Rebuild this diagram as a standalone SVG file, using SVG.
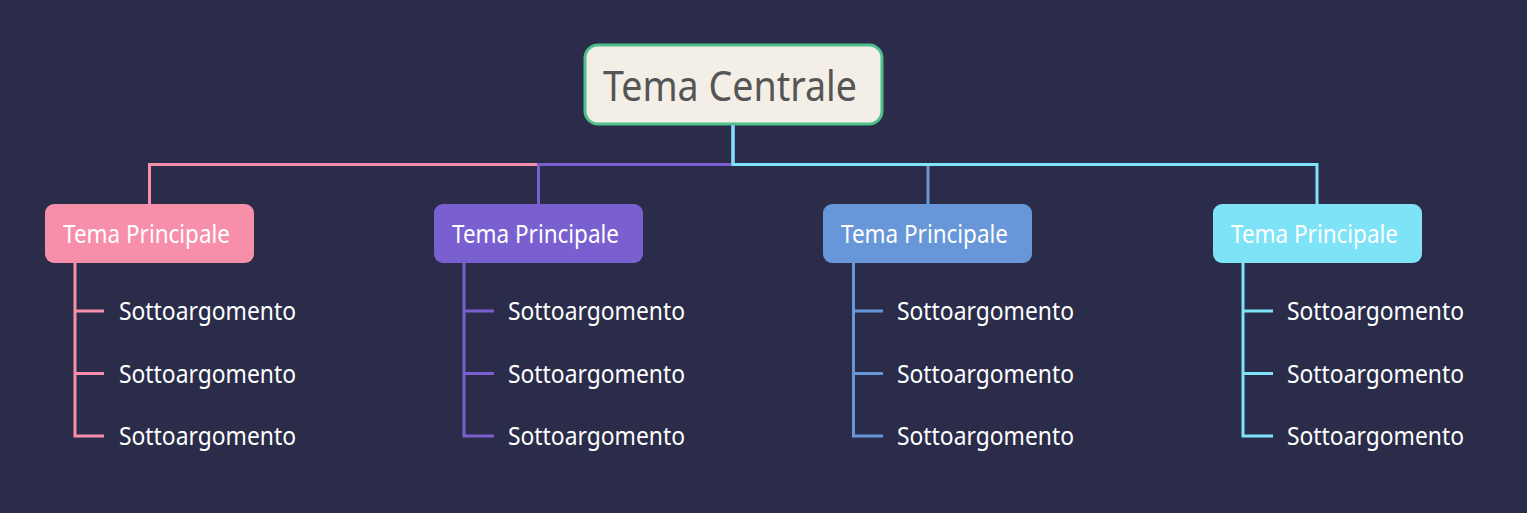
<svg xmlns="http://www.w3.org/2000/svg" width="1527" height="513" viewBox="0 0 1527 513">
<style>
.bg{fill:#2a2c4a}
.c{fill:none;stroke-width:3;stroke-linecap:butt;stroke-linejoin:miter}
.main{font-family:"Segoe UI","Noto Sans","Open Sans",sans-serif;font-size:25px;fill:#ffffff}
.sub{font-family:"Segoe UI","Noto Sans","Open Sans",sans-serif;font-size:24.5px;fill:#ffffff}
.root{font-family:"Segoe UI","Noto Sans","Open Sans",sans-serif;font-size:41px;fill:#555555}
</style>
<rect class="bg" x="0" y="0" width="1527" height="513"/>
<g id="connectors">
<path class="c" stroke="#f78fab" d="M733,125 V164.5 H149.5 V204"/>
<path class="c" stroke="#7a5fd1" d="M733,125 V164.5 H538.5 V204"/>
<path class="c" stroke="#6797d8" d="M733,125 V164.5 H928 V204"/>
<path class="c" stroke="#7ee3f7" d="M733,125 V164.5 H1317 V204"/>
<path class="c" stroke="#f78fab" d="M75,263 V436 H104 M75,311 H104 M75,373.5 H104"/>
<path class="c" stroke="#7a5fd1" d="M464,263 V436 H494 M464,311 H494 M464,373.5 H494"/>
<path class="c" stroke="#6797d8" d="M853.5,263 V436 H883 M853.5,311 H883 M853.5,373.5 H883"/>
<path class="c" stroke="#7ee3f7" d="M1243,263 V436 H1273 M1243,311 H1273 M1243,373.5 H1273"/>
</g>
<g id="root">
<rect x="585" y="45" width="297" height="79" rx="13" fill="#f3efe6" stroke="#4fbf8c" stroke-width="3"/>
<text class="root" x="603" y="100.5" textLength="254" lengthAdjust="spacingAndGlyphs">Tema Centrale</text>
</g>
<g id="main1">
<rect x="45" y="204" width="209" height="59" rx="9" fill="#f78fab"/>
<text class="main" x="63" y="242.5" textLength="167" lengthAdjust="spacingAndGlyphs">Tema Principale</text>
</g>
<g id="main2">
<rect x="434" y="204" width="209" height="59" rx="9" fill="#7a5fd1"/>
<text class="main" x="452" y="242.5" textLength="167" lengthAdjust="spacingAndGlyphs">Tema Principale</text>
</g>
<g id="main3">
<rect x="823" y="204" width="209" height="59" rx="9" fill="#6797d8"/>
<text class="main" x="841" y="242.5" textLength="167" lengthAdjust="spacingAndGlyphs">Tema Principale</text>
</g>
<g id="main4">
<rect x="1213" y="204" width="209" height="59" rx="9" fill="#7ee3f7"/>
<text class="main" x="1231" y="242.5" textLength="167" lengthAdjust="spacingAndGlyphs">Tema Principale</text>
</g>
<g id="sub1">
<text class="sub" x="119" y="319.5" textLength="177" lengthAdjust="spacingAndGlyphs">Sottoargomento</text>
<text class="sub" x="119" y="382.5" textLength="177" lengthAdjust="spacingAndGlyphs">Sottoargomento</text>
<text class="sub" x="119" y="445" textLength="177" lengthAdjust="spacingAndGlyphs">Sottoargomento</text>
</g>
<g id="sub2">
<text class="sub" x="508" y="319.5" textLength="177" lengthAdjust="spacingAndGlyphs">Sottoargomento</text>
<text class="sub" x="508" y="382.5" textLength="177" lengthAdjust="spacingAndGlyphs">Sottoargomento</text>
<text class="sub" x="508" y="445" textLength="177" lengthAdjust="spacingAndGlyphs">Sottoargomento</text>
</g>
<g id="sub3">
<text class="sub" x="897" y="319.5" textLength="177" lengthAdjust="spacingAndGlyphs">Sottoargomento</text>
<text class="sub" x="897" y="382.5" textLength="177" lengthAdjust="spacingAndGlyphs">Sottoargomento</text>
<text class="sub" x="897" y="445" textLength="177" lengthAdjust="spacingAndGlyphs">Sottoargomento</text>
</g>
<g id="sub4">
<text class="sub" x="1287" y="319.5" textLength="177" lengthAdjust="spacingAndGlyphs">Sottoargomento</text>
<text class="sub" x="1287" y="382.5" textLength="177" lengthAdjust="spacingAndGlyphs">Sottoargomento</text>
<text class="sub" x="1287" y="445" textLength="177" lengthAdjust="spacingAndGlyphs">Sottoargomento</text>
</g>
</svg>
